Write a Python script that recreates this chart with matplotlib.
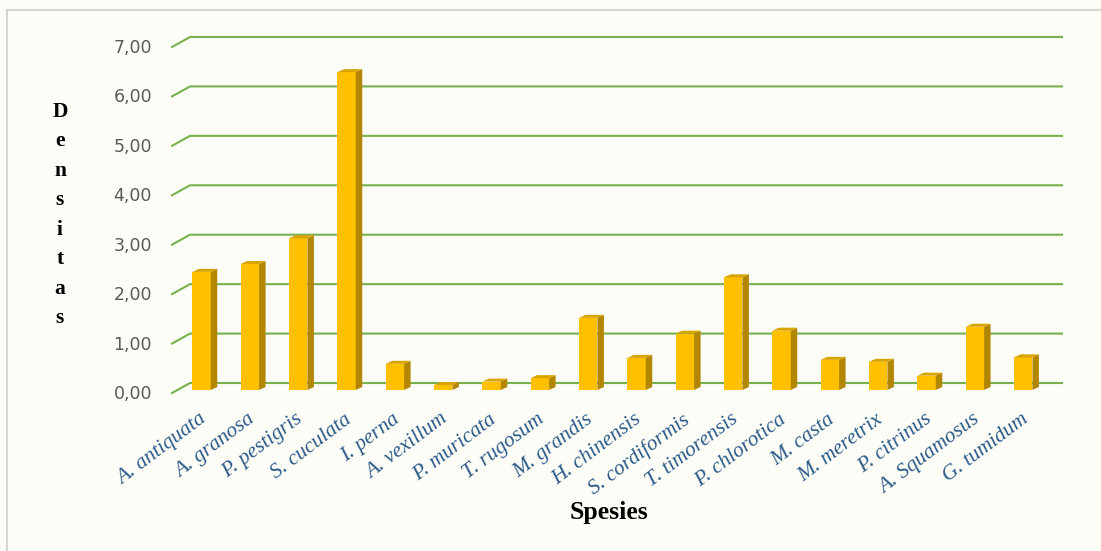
import numpy as np
import matplotlib
matplotlib.use('Agg')
import matplotlib.pyplot as plt
from matplotlib.patches import Polygon
from matplotlib.transforms import IdentityTransform

# data
species = ['A. antiquata', 'A. granosa', 'P. pestigris', 'S. cuculata', 'I. perna',
           'A. vexillum', 'P. muricata', 'T. rugosum', 'M. grandis', 'H. chinensis',
           'S. cordiformis', 'T. timorensis', 'P. chlorotica', 'M. casta',
           'M. meretrix', 'P. citrinus', 'A. Squamosus', 'G. tumidum']
densitas = [2.39, 2.55, 3.07, 6.43, 0.53, 0.10, 0.17, 0.24, 1.46, 0.65,
            1.14, 2.28, 1.20, 0.61, 0.57, 0.29, 1.28, 0.66]
yticks = [0, 1, 2, 3, 4, 5, 6, 7]
ytick_labels = ['0,00', '1,00', '2,00', '3,00', '4,00', '5,00', '6,00', '7,00']

W, H = 1101, 551
fig = plt.figure(figsize=(W / 100, H / 100), dpi=100)
fig.patch.set_facecolor('#FDFDF7')

# frame lines (left / top) of the original picture
fig.add_artist(plt.Line2D([7 / W, 7 / W], [0, 1 - 10 / H], color='#D6D6D0', lw=1.5))
fig.add_artist(plt.Line2D([7 / W, 1], [1 - 10 / H, 1 - 10 / H], color='#D6D6D0', lw=1.5))

ax = fig.add_axes([177.4 / W, (H - 390) / H, 870 / W, 346 / H])
ax.set_xlim(-0.5, len(species) - 0.5)
ax.set_ylim(0, 7)
ax.axis('off')


def px(x, y, dx=0, dy=0):
    X, Y = ax.transData.transform((x, y))
    return (X + dx, Y + dy)


ident = IdentityTransform()
grid_c = '#78B24F'

# 3d-ish gridlines: short diagonal on the left, then the back wall line
for t, lab in zip(yticks, ytick_labels):
    f = px(-0.5, t, -5.4, -3)
    b0 = px(-0.5, t, 12.6, 7)
    b1 = px(len(species) - 0.5, t, 14.6, 7)
    ax.plot([f[0], b0[0], b1[0]], [f[1], b0[1], b1[1]], color=grid_c, lw=1.5,
            transform=ident, clip_on=False, zorder=1)
    ax.text(f[0] - 20, f[1] - 1, lab, transform=ident, ha='right', va='center',
            fontsize=12.5, color='#595959', family='DejaVu Sans')

# bars: front face through ax.bar, side and top faces as offset polygons
xs = np.arange(len(species))
bw = 0.38
ax.bar(xs, densitas, width=bw, color='#FFC000', zorder=3)
ddx, ddy = 6.5, 3
for x, v in zip(xs, densitas):
    xl, xr = x - bw / 2, x + bw / 2
    side = [px(xr, 0), px(xr, v), px(xr, v, ddx, ddy), px(xr, 0, ddx, ddy)]
    top = [px(xl, v), px(xr, v), px(xr, v, ddx, ddy), px(xl, v, ddx, ddy)]
    ax.add_patch(Polygon(side, closed=True, facecolor='#B38600', edgecolor='none',
                         transform=ident, zorder=3, clip_on=False))
    ax.add_patch(Polygon(top, closed=True, facecolor='#D9A300', edgecolor='none',
                         transform=ident, zorder=3, clip_on=False))

# category labels
for x, name in zip(xs, species):
    p = px(x, 0, -3, -20)
    ax.text(p[0], p[1], name, transform=ident, rotation=37, rotation_mode='anchor',
            ha='right', va='top', fontsize=15.5, style='italic',
            family='Liberation Serif', color='#2B5A8A')

# axis titles
fig.text(60 / W, 1 - 215 / H, '\n'.join('Densitas'), ha='center', va='center',
         fontsize=15.5, fontweight='bold', family='Liberation Serif', linespacing=1.63)
fig.text(609 / W, 1 - 513 / H, 'Spesies', ha='center', va='center',
         fontsize=18.5, fontweight='bold', family='Liberation Serif')

fig.savefig('out.png', dpi=100, facecolor=fig.get_facecolor())
